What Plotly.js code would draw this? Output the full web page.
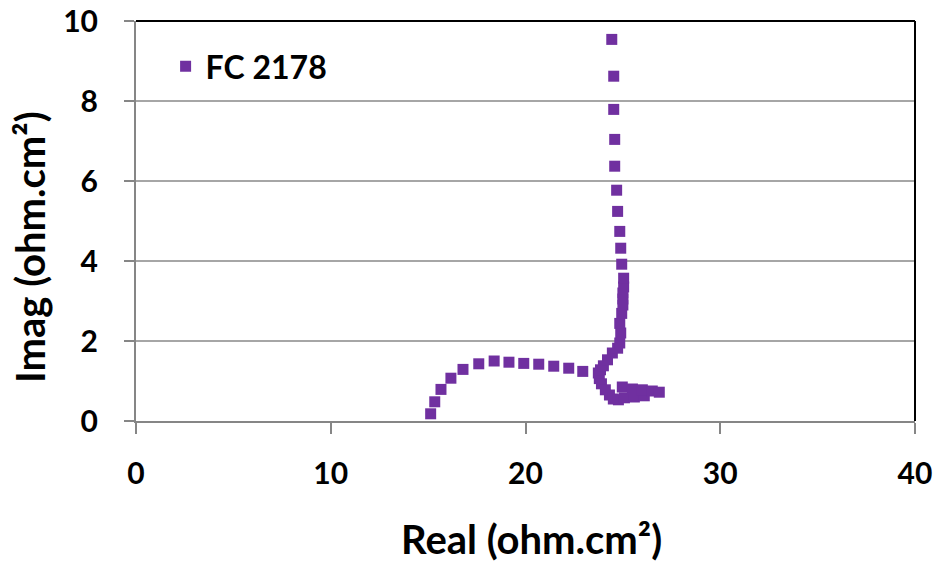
<!DOCTYPE html>
<html>
<head>
<meta charset="utf-8">
<script src="https://cdn.plot.ly/plotly-3.0.1.min.js"></script>
<style>html,body{margin:0;padding:0;background:#fff;}#chart{width:937px;height:566px;}</style>
</head>
<body>
<div id="chart"></div>
<script>
const seriesName = "FC 2178";
const xTitle = "Real (ohm.cm²)";
const yTitle = "Imag (ohm.cm²)";
const realVals = [
  15.13, 15.34, 15.66, 16.17, 16.79, 17.60, 18.39, 19.15, 19.91, 20.68, 21.45, 22.22, 22.94,
  23.74, 23.79, 23.90, 24.10, 24.31, 24.51, 24.77,
  25.08, 25.59, 26.10,
  24.97, 25.49, 26.00, 26.51, 26.87,
  23.85, 24.00, 24.21, 24.46, 24.73,
  24.84, 24.89, 24.84, 24.94, 25.00, 25.00, 25.00, 25.04, 25.04,
  24.94, 24.89, 24.84, 24.73, 24.68, 24.58, 24.58, 24.53, 24.53, 24.43
];
const imagVals = [
  0.18, 0.48, 0.79, 1.07, 1.29, 1.43, 1.50, 1.47, 1.44, 1.42, 1.37, 1.32, 1.24,
  1.20, 1.06, 0.93, 0.78, 0.65, 0.55, 0.53,
  0.58, 0.60, 0.63,
  0.85, 0.80, 0.78, 0.75, 0.72,
  1.28, 1.38, 1.53, 1.70, 1.82,
  1.95, 2.20, 2.44, 2.69, 2.90, 3.05, 3.20, 3.35, 3.57,
  3.92, 4.32, 4.74, 5.24, 5.77, 6.37, 7.04, 7.79, 8.62, 9.54
];
const xTicks = [0, 10, 20, 30, 40];
const yTicks = [0, 2, 4, 6, 8, 10];

const fontFam = "Lato, 'Open Sans', sans-serif";
const titleFont = {family: fontFam, size: 40, color: '#000', weight: 'bold'};
const trace = {
  x: realVals, y: imagVals, type: 'scatter', mode: 'markers', name: seriesName,
  marker: {symbol: 'square', size: 11, color: '#7030A0'}
};
const layout = {
  width: 937, height: 566,
  margin: {l: 136, r: 22, t: 21, b: 145},
  paper_bgcolor: '#fff', plot_bgcolor: '#fff',
  font: {family: fontFam, color: '#000'},
  showlegend: true,
  legend: {x: 0.038, y: 0.955, xanchor: 'left', yanchor: 'top', bgcolor: 'rgba(0,0,0,0)',
           font: {family: fontFam, size: 32, color: '#000', weight: 'bold'}, itemwidth: 30},
  xaxis: {
    range: [0, 40], tickvals: xTicks, ticktext: xTicks.map(String),
    showgrid: false, zeroline: false, showline: true, linecolor: '#868686', linewidth: 2,
    ticks: 'outside', ticklen: 11, tickcolor: '#868686', tickwidth: 2, ticklabelstandoff: 14,
    tickfont: {family: fontFam, size: 30, color: '#000', weight: 'bold'}
  },
  yaxis: {
    range: [0, 10], tickvals: yTicks, ticktext: yTicks.map(String),
    showgrid: true, gridcolor: '#a6a6a6', gridwidth: 2, zeroline: false,
    showline: true, linecolor: '#868686', linewidth: 2,
    ticks: 'outside', ticklen: 10, tickcolor: '#868686', tickwidth: 2, ticklabelstandoff: 20,
    tickfont: {family: fontFam, size: 30, color: '#000', weight: 'bold'}
  },
  annotations: [
    {text: xTitle, xref: 'paper', yref: 'paper', x: 0.508, y: 0, xanchor: 'center', yanchor: 'middle',
     yshift: -118, showarrow: false, font: titleFont},
    {text: yTitle, xref: 'paper', yref: 'paper', x: 0, y: 0.435, xanchor: 'center', yanchor: 'middle',
     xshift: -106, textangle: -90, showarrow: false, font: titleFont}
  ],
  shapes: [
    {type: 'line', xref: 'paper', yref: 'paper', x0: 0, x1: 1, y0: 1, y1: 1, line: {color: '#000', width: 2}},
    {type: 'line', xref: 'paper', yref: 'paper', x0: 1, x1: 1, y0: 0, y1: 1, line: {color: '#000', width: 2}}
  ]
};
Plotly.newPlot('chart', [trace], layout, {displayModeBar: false, staticPlot: true});
</script>
</body>
</html>
